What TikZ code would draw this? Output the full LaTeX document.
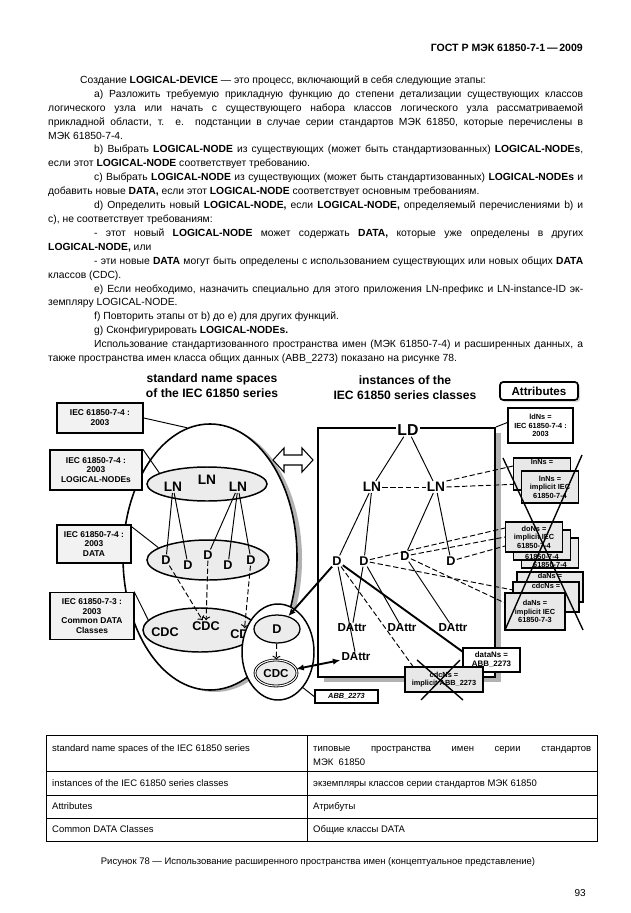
\documentclass[tikz,border=0pt]{standalone}
\usepackage{fontspec}
\setmainfont{Liberation Sans}
\usetikzlibrary{positioning,shapes.geometric,arrows.meta,shadows}

\begin{document}
\begin{tikzpicture}
	[
		x=0.33333mm, y=-0.33333mm,
		txt/.style={anchor=base west, inner sep=0pt, font=\fontsize{9.8}{12}\selectfont},
		tabtxt/.style={anchor=base west, inner sep=0pt, font=\fontsize{9}{11}\selectfont},
		ttl/.style={align=center, inner sep=0pt, font=\bfseries\fontsize{11.5}{14}\selectfont},
		nsbox/.style={draw, line width=1.6pt, fill=gray!10, align=center, inner sep=1pt, font=\bfseries\fontsize{8}{9.3}\selectfont},
		attrbox/.style={draw, line width=1.1pt, fill=gray!18, align=center, inner sep=1pt, font=\bfseries\fontsize{7}{8}\selectfont},
		attrtxt/.style={inner sep=0.5pt, font=\bfseries\fontsize{7}{8}\selectfont},
		nameset/.style={ellipse, draw, line width=1.4pt, fill=gray!15, inner sep=0pt},
		lbl/.style={inner sep=1pt, font=\bfseries\fontsize{12}{12}\selectfont},
		link/.style={line width=0.9pt},
		dlink/.style={line width=0.9pt, dash pattern=on 5pt off 2.5pt},
		heavy/.style={line width=1.8pt}
	]
	\useasboundingbox (0,0) rectangle (630,913);
	\fill[white] (0,0) rectangle (630,913);

	% page text
	\node (hdr) [anchor=base east, inner sep=0pt, font=\bfseries\fontsize{10}{12}\selectfont] at (583,52) {ГОСТ Р МЭК 61850-7-1\,—\,2009};
	\node (l0) [txt] at (80,83.5) {Создание \textbf{LOGICAL-DEVICE} — это процесс, включающий в себя следующие этапы:};
	\node (l1) [txt] at (94,97.4) {\makebox[163mm][s]{а) Разложить требуемую прикладную функцию до степени детализации существующих классов}};
	\node (l2) [txt] at (48,111.3) {\makebox[178.33mm][s]{логического узла или начать с существующего набора классов логического узла рассматриваемой}};
	\node (l3) [txt] at (48,125.2) {\makebox[178.33mm][s]{прикладной области, т. е. подстанции в случае серии стандартов МЭК 61850, которые перечислены в}};
	\node (l4) [txt] at (48,139.1) {МЭК 61850-7-4.};
	\node (l5) [txt] at (94,153) {\makebox[163mm][s]{b) Выбрать \textbf{LOGICAL-NODE} из существующих (может быть стандартизованных) \textbf{LOGICAL-NODEs},}};
	\node (l6) [txt] at (48,166.9) {если этот \textbf{LOGICAL-NODE} соответствует требованию.};
	\node (l7) [txt] at (94,180.8) {\makebox[163mm][s]{c) Выбрать \textbf{LOGICAL-NODE} из существующих (может быть стандартизованных) \textbf{LOGICAL-NODEs} и}};
	\node (l8) [txt] at (48,194.7) {добавить новые \textbf{DATA,} если этот \textbf{LOGICAL-NODE} соответствует основным требованиям.};
	\node (l9) [txt] at (94,208.6) {\makebox[163mm][s]{d) Определить новый \textbf{LOGICAL-NODE,} если \textbf{LOGICAL-NODE,} определяемый перечислениями b) и}};
	\node (l10) [txt] at (48,222.5) {c), не соответствует требованиям:};
	\node (l11) [txt] at (94,236.4) {\makebox[163mm][s]{- этот новый \textbf{LOGICAL-NODE} может содержать \textbf{DATA,} которые уже определены в других}};
	\node (l12) [txt] at (48,250.3) {\textbf{LOGICAL-NODE,} или};
	\node (l13) [txt] at (94,264.2) {\makebox[163mm][s]{- эти новые \textbf{DATA} могут быть определены с использованием существующих или новых общих \textbf{DATA}}};
	\node (l14) [txt] at (48,278.1) {классов (CDC).};
	\node (l15) [txt] at (94,292) {\makebox[163mm][s]{е) Если необходимо, назначить специально для этого приложения LN-префикс и LN-instance-ID эк-}};
	\node (l16) [txt] at (48,305.9) {земпляру LOGICAL-NODE.};
	\node (l17) [txt] at (94,319.8) {f) Повторить этапы от b) до е) для других функций.};
	\node (l18) [txt] at (94,333.7) {g) Сконфигурировать \textbf{LOGICAL-NODEs.}};
	\node (l19) [txt] at (94,347.6) {\makebox[163mm][s]{Использование стандартизованного пространства имен (МЭК 61850-7-4) и расширенных данных, а}};
	\node (l20) [txt] at (48,361.5) {также пространства имен класса общих данных (ABB\_2273) показано на рисунке 78.};

	% titles
	\node (ttlstd) [ttl] at (212,386) {standard name spaces\\of the IEC 61850 series};
	\node (ttlinst) [ttl] at (405,388) {instances of the\\IEC 61850 series classes};
	\node (attrs) [draw, rounded corners=3pt, line width=1.6pt, fill=white, drop shadow={shadow xshift=2pt, shadow yshift=-2pt, fill=gray!60}, minimum width=26mm, minimum height=6mm, inner sep=0pt, font=\bfseries\fontsize{11}{11}\selectfont] at (539,391) {Attributes};

	% standard name spaces
	\fill[gray!60] (215,559) ellipse [x radius=87, y radius=133];
	\node (stdns) [ellipse, draw, line width=1.5pt, fill=white, minimum width=58mm, minimum height=88.67mm, inner sep=0pt] at (210,557) {};
	\node (lnset) [nameset, minimum width=40mm, minimum height=11.33mm] at (207,484) {};
	\node (dset) [nameset, minimum width=40.67mm, minimum height=13.33mm] at (208,560) {};
	\node (cdcset) [nameset, minimum width=38mm, minimum height=14.67mm] at (200,630) {};
	\foreach \n/\x/\y in {1/173/487, 2/207/480, 3/238/487}
		\node (ln\n) [lbl, font=\bfseries\fontsize{13}{13}\selectfont] at (\x,\y) {LN};
	\foreach \n/\x/\y in {1/166/560, 2/188/565, 3/208/555, 4/228/565, 5/251/560}
		\node (d\n) [lbl] at (\x,\y) {D};
	\foreach \n/\x/\y in {1/165/632, 2/206/626, 3/244/634}
		\node (c\n) [lbl] at (\x,\y) {CDC};
	\foreach \a/\b in {1/1, 1/2, 3/3, 3/4, 3/5}
		\draw[link] (ln\a) -- (d\b);
	\foreach \a/\b in {1/2, 3/2, 5/3}
		\draw[dlink, ->] (d\a) -- (c\b);

	\node (nsA) [nsbox, minimum width=28.67mm, minimum height=10mm] at (100,418) {IEC 61850-7-4 :\\2003};
	\node (nsB) [nsbox, minimum width=30.67mm, minimum height=13.33mm] at (96,470) {IEC 61850-7-4 :\\2003\\LOGICAL-NODEs};
	\node (nsC) [nsbox, minimum width=24.67mm, minimum height=12.67mm] at (94,544) {IEC 61850-7-4 :\\2003\\DATA};
	\node (nsD) [nsbox, minimum width=28mm, minimum height=15.67mm] at (92,616) {IEC 61850-7-3 :\\2003\\Common DATA\\Classes};
	\draw[link] (nsA.east) -- (stdns.100);
	\draw[link] (nsB.north east) -- (lnset.167);
	\draw[link] (nsC.30) -- (dset.166);
	\draw[link] (nsD.30) -- (cdcset.169);

	% extended name space
	\node (grp) [ellipse, draw, line width=1.4pt, fill=white, minimum width=24mm, minimum height=32mm, inner sep=0pt] at (278,652) {};
	\node (smalld) [nameset, line width=1.2pt, minimum width=15.33mm, minimum height=9.33mm, font=\bfseries\fontsize{12}{12}\selectfont] at (277,629) {D};
	\node (smallcdc) [nameset, line width=0.8pt, double, double distance=1pt, minimum width=14mm, minimum height=8.67mm, font=\bfseries\fontsize{11}{11}\selectfont] at (276,673) {CDC};
	\draw[dlink, ->] (smalld) -- (smallcdc);

	\draw[line width=1pt, fill=white] (273,460) -- (284,448) -- (284,455) -- (302,455) -- (302,448) -- (313,460) -- (302,472) -- (302,465) -- (284,465) -- (284,472) -- cycle;

	% instances
	\fill[gray!60] (324,433) rectangle (501,682);
	\node (ldbox) [draw, line width=2pt, fill=white, minimum width=59mm, minimum height=83mm, inner sep=0pt] at (406.5,552.5) {};
	\node (ld) [lbl, fill=white, font=\bfseries\fontsize{15}{15}\selectfont] at (408,430) {LD};
	\node (lnA) [lbl, font=\bfseries\fontsize{13}{13}\selectfont] at (372,487) {LN};
	\node (lnB) [lbl, font=\bfseries\fontsize{13}{13}\selectfont] at (436,487) {LN};
	\node (dA) [lbl] at (337,561) {D};
	\node (dB) [lbl] at (364,561) {D};
	\node (dC) [lbl] at (405,556) {D};
	\node (dD) [lbl] at (451,561) {D};
	\node (attrA) [lbl, font=\bfseries\fontsize{11}{11}\selectfont] at (352,628) {DAttr};
	\node (attrB) [lbl, font=\bfseries\fontsize{11}{11}\selectfont] at (402,628) {DAttr};
	\node (attrC) [lbl, font=\bfseries\fontsize{11}{11}\selectfont] at (453,628) {DAttr};
	\node (attrD) [lbl, font=\bfseries\fontsize{11}{11}\selectfont] at (356,657) {DAttr};
	\foreach \a/\b in {ld/lnA, ld/lnB, lnA/dA, lnA/dB, lnB/dC, lnB/dD, dA/attrD, dB/attrA, dB/attrB, dC/attrC}
		\draw[link] (\a) -- (\b);

	% attributes
	\node (ldns) [attrbox, fill=white, line width=1.6pt, minimum width=21.67mm, minimum height=11.67mm] at (540.5,425.5) {ldNs =\\IEC 61850-7-4 :\\2003};
	\draw[link] (ldns.175) -- (ldbox.north east);
	\draw[dlink] (lnA) -- (lnB);
	\draw[dlink] (lnB.north east) -- (513,466);
	\draw[dlink] (lnB.east) -- (522,484);
	\draw[dlink] (dB) -- (505,528);
	\draw[dlink] (dC) -- (505,537);
	\draw[dlink] (dD) -- (505,546);
	\draw[dlink] (dB) -- (513,590);
	\draw[dlink] (dC) -- (505,603);
	\node (lnnsA) [attrbox, minimum width=19mm, minimum height=10.67mm] at (542,474) {};
	\node (lnnsAt) [attrtxt, anchor=north] at ([yshift=-1pt]lnnsA.north) {lnNs =};
	\node (lnnsB) [attrbox, minimum width=19mm, minimum height=10.67mm] at (550,487) {lnNs =\\implicit IEC\\61850-7-4};
	\node (doC) [attrbox, minimum width=19mm, minimum height=10mm] at (550,553) {};
	\node (doCt) [attrtxt, anchor=south] at ([yshift=0.5pt]doC.south) {61850-7-4};
	\node (doB) [attrbox, minimum width=19mm, minimum height=10mm] at (542,545) {};
	\node (doBt) [attrtxt, anchor=south] at ([yshift=0.5pt]doB.south) {61850-7-4};
	\node (doA) [attrbox, minimum width=19mm, minimum height=10mm] at (534,537) {doNs =\\implicit IEC\\61850-7-4};
	\node (daA) [attrbox, minimum width=22mm, minimum height=10mm] at (550,587) {};
	\node (daAt) [attrtxt, anchor=north] at ([yshift=-0.5pt]daA.north) {daNs =};
	\node (daB) [attrbox, minimum width=22mm, minimum height=10mm] at (546,597) {};
	\node (daBt) [attrtxt, anchor=north] at ([yshift=-0.5pt]daB.north) {cdcNs =};
	\node (daC) [attrbox, minimum width=20mm, minimum height=12.33mm] at (535,611.5) {daNs =\\implicit IEC\\61850-7-3};
	\coordinate (xa) at (503,458);
	\coordinate (xb) at (583,630);
	\coordinate (xc) at (582,455);
	\coordinate (xd) at (505,630);
	\draw[line width=1.3pt] (xa) -- (xb) (xc) -- (xd);

	\draw[dlink] (dA) -- (417,672);
	\draw[heavy] (dA) -- (463,652);
	\node (datans) [attrbox, fill=white, line width=1.8pt, minimum width=19mm, minimum height=8mm, font=\bfseries\fontsize{7.5}{8.5}\selectfont] at (491.5,660) {dataNs =\\ABB\_2273};
	\node (cdcns) [attrbox, minimum width=26mm, minimum height=8.33mm] at (444,679.5) {cdcNs =\\implicit ABB\_2273};
	\coordinate (ya) at (417,660);
	\coordinate (yb) at (463,700);
	\coordinate (yc) at (460,660);
	\coordinate (yd) at (421,700);
	\draw[line width=1.3pt] (ya) -- (yb) (yc) -- (yd);

	\node (abbbox) [draw, line width=1.6pt, fill=white, minimum width=21mm, minimum height=4.33mm, inner sep=0.5pt, font=\bfseries\itshape\fontsize{7}{7.5}\selectfont] at (346.5,696.5) {ABB\_2273};
	\draw[link] (grp.-55) -- (abbbox.west);
	\draw[heavy, -{Latex[length=7pt,width=6pt]}] (dA) -- (smalld);
	\draw[heavy, {Latex[length=7pt,width=6pt]}-{Latex[length=7pt,width=6pt]}] (smallcdc) -- (attrD);

	% table
	\draw[line width=0.6pt] (46,735) rectangle (597,841);
	\foreach \y in {771,795,818}
		\draw[line width=0.6pt] (46,\y) -- (597,\y);
	\draw[line width=0.6pt] (307,735) -- (307,841);
	\node (tl1) [tabtxt] at (52,751) {standard name spaces of the IEC 61850 series};
	\node (tr1) [tabtxt] at (313,751) {\makebox[92.67mm][s]{типовые пространства имен серии стандартов}};
	\node (tr1b) [tabtxt] at (313,765) {МЭК\ \ 61850};
	\node (tl2) [tabtxt] at (52,786) {instances of the IEC 61850 series classes};
	\node (tr2) [tabtxt] at (313,786) {экземпляры классов серии стандартов МЭК 61850};
	\node (tl3) [tabtxt] at (52,809.5) {Attributes};
	\node (tr3) [tabtxt] at (313,809.5) {Атрибуты};
	\node (tl4) [tabtxt] at (52,832.5) {Common DATA Classes};
	\node (tr4) [tabtxt] at (313,832.5) {Общие классы DATA};

	\node (cap) [anchor=base, inner sep=0pt, font=\fontsize{9}{11}\selectfont] at (318,864) {Рисунок 78 — Использование расширенного пространства имен (концептуальное представление)};
	\node (pg) [anchor=base east, inner sep=0pt, font=\fontsize{9.5}{11}\selectfont] at (586,896) {93};
\end{tikzpicture}
\end{document}
